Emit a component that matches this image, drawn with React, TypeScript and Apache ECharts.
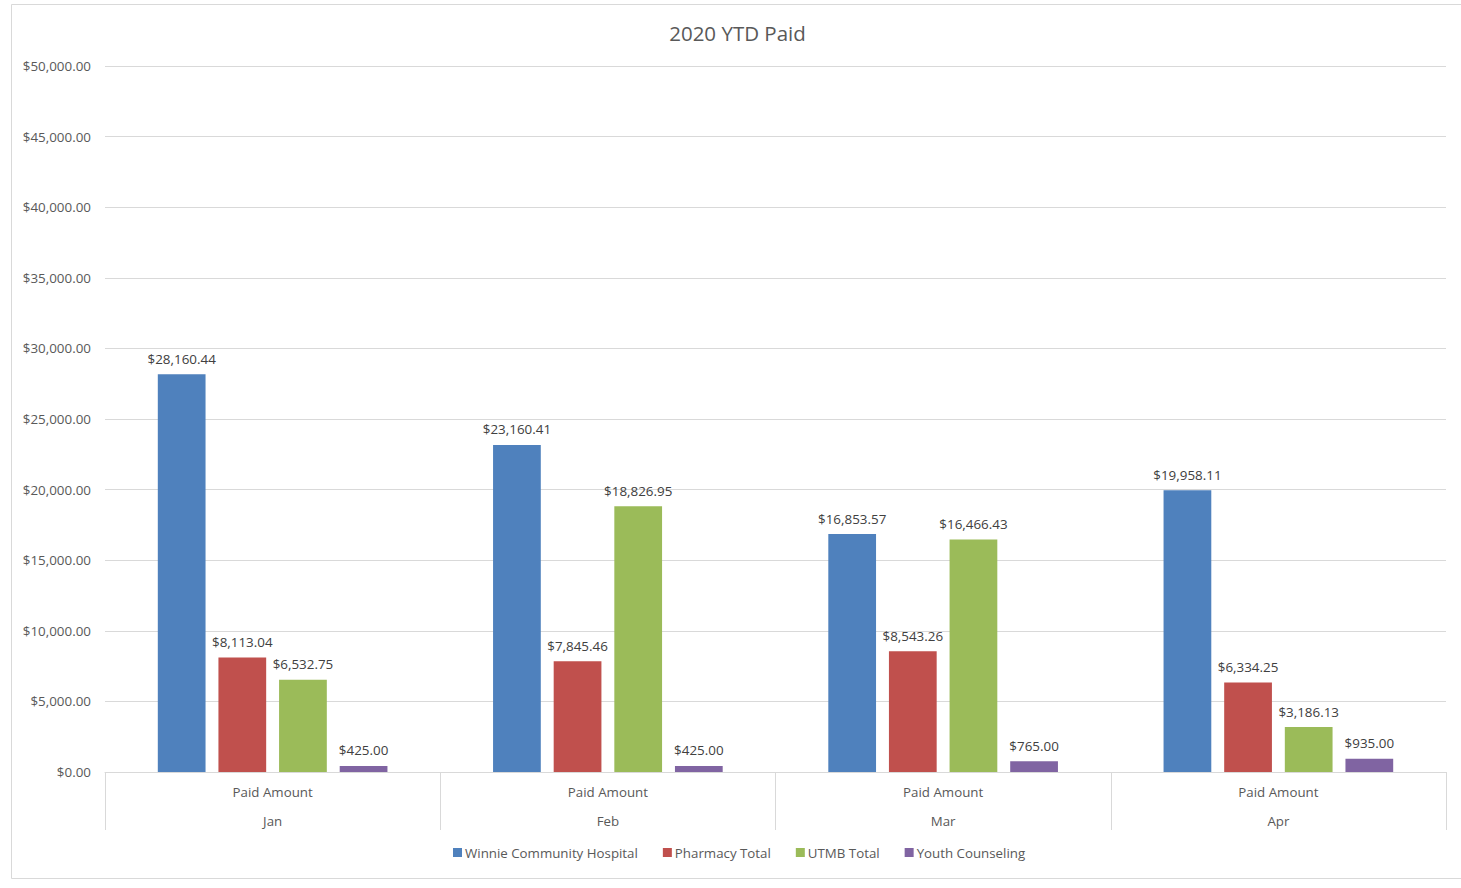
import React, { useEffect, useRef } from "react";
import * as echarts from "echarts";

const categories = ["Jan", "Feb", "Mar", "Apr"];
const groupLabel = "Paid Amount";
const seriesNames = ["Winnie Community Hospital", "Pharmacy Total", "UTMB Total", "Youth Counseling"];
const winnie = [28160.44, 23160.41, 16853.57, 19958.11];
const pharmacy = [8113.04, 7845.46, 8543.26, 6334.25];
const utmb = [6532.75, 18826.95, 16466.43, 3186.13];
const youth = [425.0, 425.0, 765.0, 935.0];
const colors = ["#4F81BD", "#C0504D", "#9BBB59", "#8064A2"];

const FONT = "'Open Sans', 'Noto Sans', sans-serif";

const money = (v: number) =>
  "$" + v.toLocaleString("en-US", { minimumFractionDigits: 2, maximumFractionDigits: 2 });

export default function App() {
  const ref = useRef<HTMLDivElement>(null);
  useEffect(() => {
    if (!ref.current) return;
    const chart = echarts.init(ref.current, null, { renderer: "svg" });
    const data = [winnie, pharmacy, utmb, youth];
    chart.setOption({
      animation: false,
      backgroundColor: "#ffffff",
      textStyle: { fontFamily: FONT },
      graphic: [
        {
          type: "rect",
          shape: { x: 11.5, y: 4.5, width: 1460, height: 874 },
          style: { fill: "none", stroke: "#d9d9d9", lineWidth: 1 },
          silent: true,
        },
        {
          type: "text",
          x: 737.5,
          y: 33,
          style: {
            text: "2020 YTD Paid",
            fontFamily: FONT,
            fontSize: 20.5,
            fill: "#595959",
            align: "center",
            verticalAlign: "middle",
          },
          silent: true,
        },
      ],
      legend: {
        bottom: 24,
        left: 448,
        itemWidth: 9,
        itemHeight: 9,
        itemGap: 25,
        icon: "rect",
        textStyle: { fontFamily: FONT, fontSize: 13.3, color: "#595959", padding: [0, 0, 0, -2] },
        data: seriesNames,
      },
      grid: { left: 105, right: 15, top: 66, bottom: 116, containLabel: false },
      xAxis: {
        type: "category",
        data: categories,
        axisLine: { lineStyle: { color: "#d9d9d9" } },
        axisTick: { show: true, length: 58, lineStyle: { color: "#d9d9d9" } },
        axisLabel: {
          margin: 5,
          formatter: (v: string) => `{a|${groupLabel}}\n{b|${v}}`,
          rich: {
            a: { fontFamily: FONT, fontSize: 13.3, color: "#595959", lineHeight: 29 },
            b: { fontFamily: FONT, fontSize: 13.3, color: "#595959", lineHeight: 29 },
          },
        },
      },
      yAxis: {
        type: "value",
        min: 0,
        max: 50000,
        interval: 5000,
        axisLine: { show: false },
        axisTick: { show: false },
        splitLine: { lineStyle: { color: "#d9d9d9" } },
        axisLabel: {
          margin: 14,
          fontFamily: FONT,
          fontSize: 13.4,
          color: "#595959",
          formatter: (v: number) => money(v),
        },
      },
      series: seriesNames.map((name, i) => ({
        name,
        type: "bar",
        data: data[i],
        itemStyle: { color: colors[i] },
        barGap: "27%",
        barCategoryGap: "31.5%",
        label: {
          show: true,
          position: "top",
          distance: 9,
          fontFamily: FONT,
          fontSize: 13.4,
          color: "#404040",
          formatter: (p: any) => money(p.value),
        },
      })),
    });
    return () => chart.dispose();
  }, []);
  return (
    <div
      ref={ref}
      style={{ position: "fixed", left: 0, top: 0, width: 1461, height: 888, background: "#fff" }}
    />
  );
}
